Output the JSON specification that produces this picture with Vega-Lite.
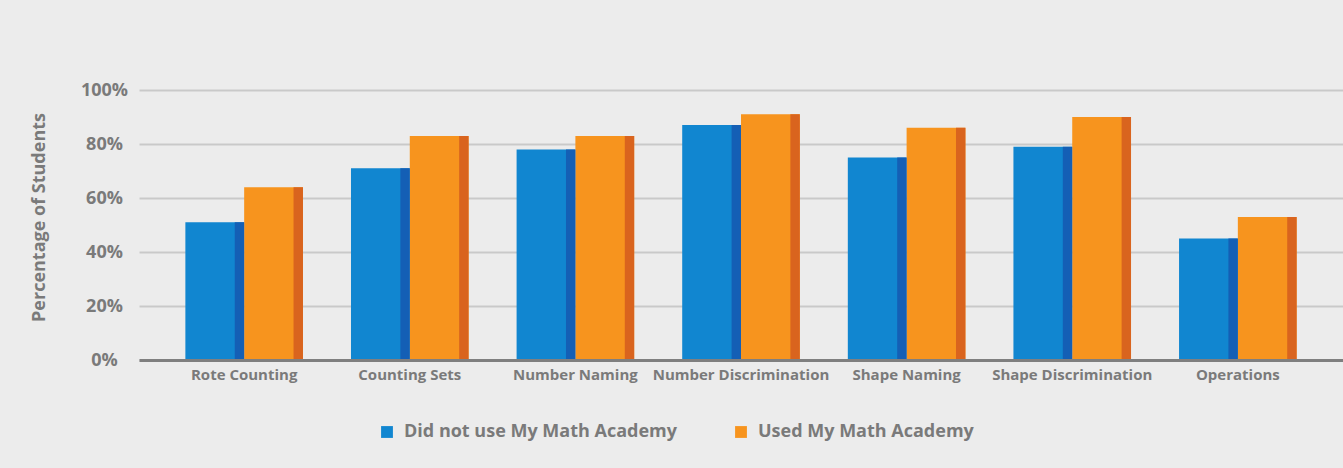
{
  "$schema": "https://vega.github.io/schema/vega-lite/v6.json",
  "autosize": "none",
  "width": 1204,
  "height": 270,
  "padding": {"left": 139, "top": 90, "right": 0, "bottom": 108},
  "background": "#ececec",
  "config": {
    "view": {"stroke": null},
    "font": "Open Sans"
  },
  "data": {
    "values": [
      {"category": "Rote Counting", "group": "Did not use My Math Academy", "value": 0.51},
      {"category": "Rote Counting", "group": "Used My Math Academy", "value": 0.64},
      {"category": "Counting Sets", "group": "Did not use My Math Academy", "value": 0.71},
      {"category": "Counting Sets", "group": "Used My Math Academy", "value": 0.83},
      {"category": "Number Naming", "group": "Did not use My Math Academy", "value": 0.78},
      {"category": "Number Naming", "group": "Used My Math Academy", "value": 0.83},
      {"category": "Number Discrimination", "group": "Did not use My Math Academy", "value": 0.87},
      {"category": "Number Discrimination", "group": "Used My Math Academy", "value": 0.91},
      {"category": "Shape Naming", "group": "Did not use My Math Academy", "value": 0.75},
      {"category": "Shape Naming", "group": "Used My Math Academy", "value": 0.86},
      {"category": "Shape Discrimination", "group": "Did not use My Math Academy", "value": 0.79},
      {"category": "Shape Discrimination", "group": "Used My Math Academy", "value": 0.90},
      {"category": "Operations", "group": "Did not use My Math Academy", "value": 0.45},
      {"category": "Operations", "group": "Used My Math Academy", "value": 0.53}
    ]
  },
  "encoding": {
    "x": {
      "field": "category",
      "type": "nominal",
      "sort": null,
      "scale": {"paddingInner": 0.29, "paddingOuter": 0.28},
      "axis": {
        "title": null,
        "labelAngle": 0,
        "ticks": false,
        "domain": true,
        "domainColor": "#7f7f7f",
        "domainWidth": 3,
        "labelFont": "Open Sans",
        "labelFontSize": 15,
        "labelFontWeight": "bold",
        "labelColor": "#7a7a7a",
        "labelPadding": 7,
        "zindex": 1
      }
    },
    "xOffset": {
      "field": "group",
      "type": "nominal",
      "scale": {"domain": ["Did not use My Math Academy", "Used My Math Academy"], "paddingInner": 0, "paddingOuter": 0}
    },
    "y": {
      "field": "value",
      "type": "quantitative",
      "scale": {"domain": [0, 1]},
      "axis": {
        "title": "Percentage of Students",
        "titleFont": "Open Sans",
        "titleFontSize": 18,
        "titleFontWeight": "bold",
        "titleColor": "#7a7a7a",
        "titleX": -100,
        "titleY": 127,
        "titleAngle": -90,
        "titleAlign": "center",
        "titleBaseline": "middle",
        "values": [0, 0.2, 0.4, 0.6, 0.8, 1],
        "format": ".0%",
        "domain": false,
        "ticks": false,
        "grid": true,
        "gridColor": "#c9c9c9",
        "gridWidth": 2,
        "labelAlign": "center",
        "labelPadding": 35,
        "labelFont": "Open Sans",
        "labelFontSize": 18,
        "labelFontWeight": "bold",
        "labelColor": "#7a7a7a"
      }
    }
  },
  "layer": [
    {
      "mark": {"type": "bar"},
      "encoding": {
        "color": {
          "field": "group",
          "type": "nominal",
          "scale": {"domain": ["Did not use My Math Academy", "Used My Math Academy"], "range": ["#1186d0", "#f7941e"]},
          "legend": {
            "title": null,
            "orient": "none",
            "direction": "horizontal",
            "legendX": 239,
            "legendY": 333,
            "symbolType": "square",
            "symbolSize": 140,
            "symbolStrokeWidth": 0,
            "labelFont": "Open Sans",
            "labelFontSize": 18,
            "labelFontWeight": "bold",
            "labelColor": "#7a7a7a",
            "labelOffset": 8,
            "columnPadding": 55,
            "labelLimit": 400
          }
        }
      }
    },
    {
      "mark": {"type": "bar", "width": {"band": 0.16}},
      "encoding": {
        "color": {
          "field": "group",
          "type": "nominal",
          "scale": {"domain": ["Did not use My Math Academy", "Used My Math Academy"], "range": ["#145fb5", "#d9641e"]},
          "legend": null
        }
      }
    }
  ],
  "resolve": {"scale": {"color": "independent"}}
}
